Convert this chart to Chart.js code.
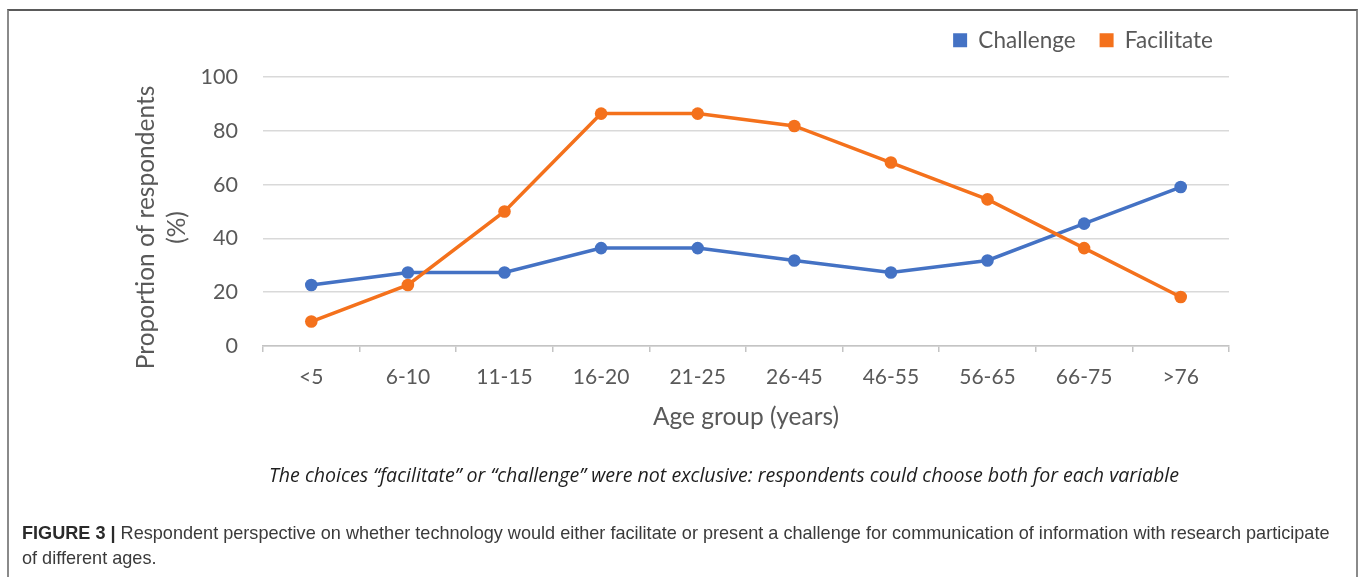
<!DOCTYPE html>
<html>
<head>
<meta charset="utf-8">
<script src="https://cdn.jsdelivr.net/npm/chart.js@4/dist/chart.umd.min.js"></script>
<style>
  html, body { margin: 0; padding: 0; background: #ffffff; }
  body { width: 1360px; height: 577px; position: relative; overflow: hidden; }
  #frame { position: absolute; left: 7px; top: 9px; width: 1347px; height: 600px;
           border-top: 2px solid #5a5a5a; border-left: 2px solid #8a8a8a; border-right: 2px solid #8a8a8a; }
  #chart { position: absolute; left: 0; top: 0; }
  #note { position: absolute; left: 224px; top: 461px; width: 1000px; text-align: center;
          font-family: "Open Sans", Lato, sans-serif; font-style: italic; font-size: 19.6px; color: #1e1e1e; white-space: nowrap; }
  #caption { position: absolute; left: 22px; top: 521px; font-family: "Liberation Sans", Arial, sans-serif;
             font-size: 18.1px; line-height: 25px; color: #3a3a3a; white-space: nowrap; }
  #caption b { color: #2a2a2a; }
</style>
</head>
<body>
<div id="frame"></div>
<canvas id="chart" width="1360" height="577"></canvas>
<div id="note">The choices “facilitate” or “challenge” were not exclusive: respondents could choose both for each variable</div>
<div id="caption"><b>FIGURE 3 |</b> Respondent perspective on whether technology would either facilitate or present a challenge for communication of information with research participate<br>of different ages.</div>
<script>
// Age groups on the x axis
const ageGroups = ['<5', '6-10', '11-15', '16-20', '21-25', '26-45', '46-55', '56-65', '66-75', '>76'];
// Share of respondents (%) answering "challenge" / "facilitate" per age group
const challenge = [22.7, 27.3, 27.3, 36.4, 36.4, 31.8, 27.3, 31.8, 45.5, 59.1];
const facilitate = [9.1, 22.7, 50.0, 86.4, 86.4, 81.8, 68.2, 54.5, 36.4, 18.2];
const seriesNames = ['Challenge', 'Facilitate'];
const yTitleLines = ['Proportion of respondents', '(%)'];
const xTitle = 'Age group (years)';

const BLUE = '#4472c4';
const ORANGE = '#f4711c';
const TEXT = '#595959';
const FONT = 'Lato, "Open Sans", sans-serif';

// extra space under the legend row, and nudge the legend to the right
const legendGap = {
  id: 'legendGap',
  beforeInit(chart) {
    const lg = chart.legend;
    if (!lg) return;
    const baseFit = lg.fit.bind(lg);
    lg.fit = function () { baseFit(); this.height += 15.5; };
  },
  afterLayout(chart) {
    const lg = chart.legend;
    if (!lg) return;
    lg.left += 8;
    lg.right += 8;
  }
};

// rotated two-line title for the value axis
const yTitle = {
  id: 'yTitle',
  afterDraw(chart) {
    const ctx = chart.ctx;
    const area = chart.chartArea;
    ctx.save();
    ctx.fillStyle = TEXT;
    ctx.font = '24.5px ' + FONT;
    ctx.textAlign = 'center';
    ctx.textBaseline = 'middle';
    const cy = (area.top + area.bottom) / 2 + 16;
    const xs = [146, 177];
    yTitleLines.forEach((t, i) => {
      ctx.save();
      ctx.translate(xs[i], cy);
      ctx.rotate(-Math.PI / 2);
      ctx.fillText(t, 0, 0);
      ctx.restore();
    });
    ctx.restore();
  }
};

new Chart(document.getElementById('chart'), {
  type: 'line',
  data: {
    labels: ageGroups,
    datasets: [
      { label: seriesNames[0], data: challenge, borderColor: BLUE, backgroundColor: BLUE,
        pointBackgroundColor: BLUE, pointBorderColor: BLUE, borderWidth: 3.5,
        pointRadius: 6.3, pointBorderWidth: 0, tension: 0, order: 1 },
      { label: seriesNames[1], data: facilitate, borderColor: ORANGE, backgroundColor: ORANGE,
        pointBackgroundColor: ORANGE, pointBorderColor: ORANGE, borderWidth: 3.5,
        pointRadius: 6.3, pointBorderWidth: 0, tension: 0, order: 0 }
    ]
  },
  options: {
    responsive: false,
    animation: false,
    devicePixelRatio: 1,
    layout: { padding: { left: 10, right: 131, top: 5, bottom: 145 } },
    plugins: {
      tooltip: { enabled: false },
      legend: {
        position: 'top',
        align: 'end',
        labels: {
          font: { family: FONT, size: 22.5 },
          color: TEXT,
          boxWidth: 14,
          boxHeight: 14,
          padding: 24,
          sort: (a, b) => a.datasetIndex - b.datasetIndex,
          generateLabels: (chart) => Chart.defaults.plugins.legend.labels.generateLabels(chart)
            .map(l => Object.assign(l, { lineWidth: 0 }))
        }
      }
    },
    scales: {
      x: {
        type: 'category',
        offset: true,
        grid: { display: true, drawOnChartArea: false, drawTicks: true, tickLength: 6,
                offset: true, color: '#c4c4c4', lineWidth: 1.5 },
        border: { display: true, color: '#c4c4c4', width: 1.5 },
        ticks: { font: { family: FONT, size: 21 }, color: TEXT, padding: 13, maxRotation: 0, autoSkip: false },
        title: { display: true, text: xTitle, font: { family: FONT, size: 24.5 }, color: TEXT,
                 padding: { top: 0, bottom: 0 } },
        afterFit: (s) => { s.height = 86; }
      },
      y: {
        min: 0,
        max: 100,
        ticks: { stepSize: 20, font: { family: FONT, size: 21.5 }, color: TEXT, padding: 25 },
        grid: { color: '#d9d9d9', lineWidth: 1.5, drawTicks: false },
        border: { display: false },
        afterFit: (s) => { s.width = 253; }
      }
    }
  },
  plugins: [legendGap, yTitle]
});
</script>
</body>
</html>
